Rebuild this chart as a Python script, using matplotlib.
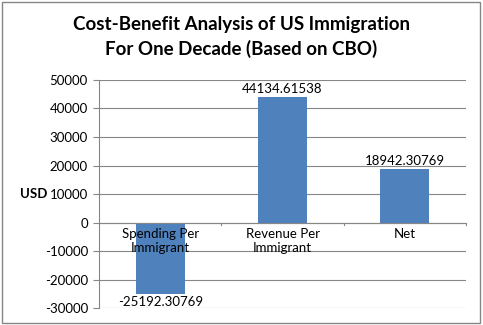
import matplotlib
matplotlib.use("Agg")
import matplotlib.pyplot as plt
from matplotlib.patches import Rectangle

categories = ["Spending Per\nImmigrant", "Revenue Per\nImmigrant", "Net"]
values = [-25192.30769, 44134.61538, 18942.30769]
value_labels = ["-25192.30769", "44134.61538", "18942.30769"]
y_ticks = list(range(-30000, 50001, 10000))

plt.rcParams['font.family'] = ['Lato', 'DejaVu Sans']
fs = 9.5

fig = plt.figure(figsize=(4.83, 3.25), dpi=100)
ax = fig.add_axes([0.205, 0.052, 0.76, 0.702])

xs = list(range(len(categories)))
ax.bar(xs, values, width=0.4, color="#4F81BD", zorder=3)

ax.set_xlim(-0.5, len(categories) - 0.5)
ax.set_ylim(-30000, 50000)
ax.set_yticks(y_ticks)
ax.set_yticklabels([str(t) for t in y_ticks], fontsize=fs)
ax.yaxis.grid(True, color="#868686", linewidth=0.8, zorder=0)
ax.tick_params(axis="y", length=4, color="#868686", pad=4)

for s in ["top", "right", "bottom"]:
    ax.spines[s].set_visible(False)
ax.spines["left"].set_color("#868686")

# category axis at zero
ax.axhline(0, color="#868686", linewidth=0.8, zorder=4)
ax.set_xticks([])
for b in [0.5, 1.5, 2.5]:
    ax.plot([b, b], [0, -900], color="#868686", linewidth=0.8, clip_on=False, zorder=4)
for x, c in zip(xs, categories):
    ax.text(x, -2000, c, ha="center", va="top", fontsize=fs, zorder=5, linespacing=1.15)

for x, v, lab in zip(xs, values, value_labels):
    if v >= 0:
        ax.text(x, v + 600, lab, ha="center", va="bottom", fontsize=fs, zorder=5)
    else:
        ax.text(x, v - 600, lab, ha="center", va="top", fontsize=fs, zorder=5)

ax.set_ylabel("USD", rotation=0, fontsize=fs, fontweight="bold", labelpad=8, va="center")

fig.text(0.5, 0.885, "Cost-Benefit Analysis of US Immigration\nFor One Decade (Based on CBO)",
         ha="center", va="center", fontsize=13.5, fontweight="bold", linespacing=1.45)

fig.patches.append(Rectangle((0.004, 0.006), 0.99, 0.988, transform=fig.transFigure,
                             fill=False, edgecolor="#868686", linewidth=1))

fig.savefig("out.png", dpi=100)
